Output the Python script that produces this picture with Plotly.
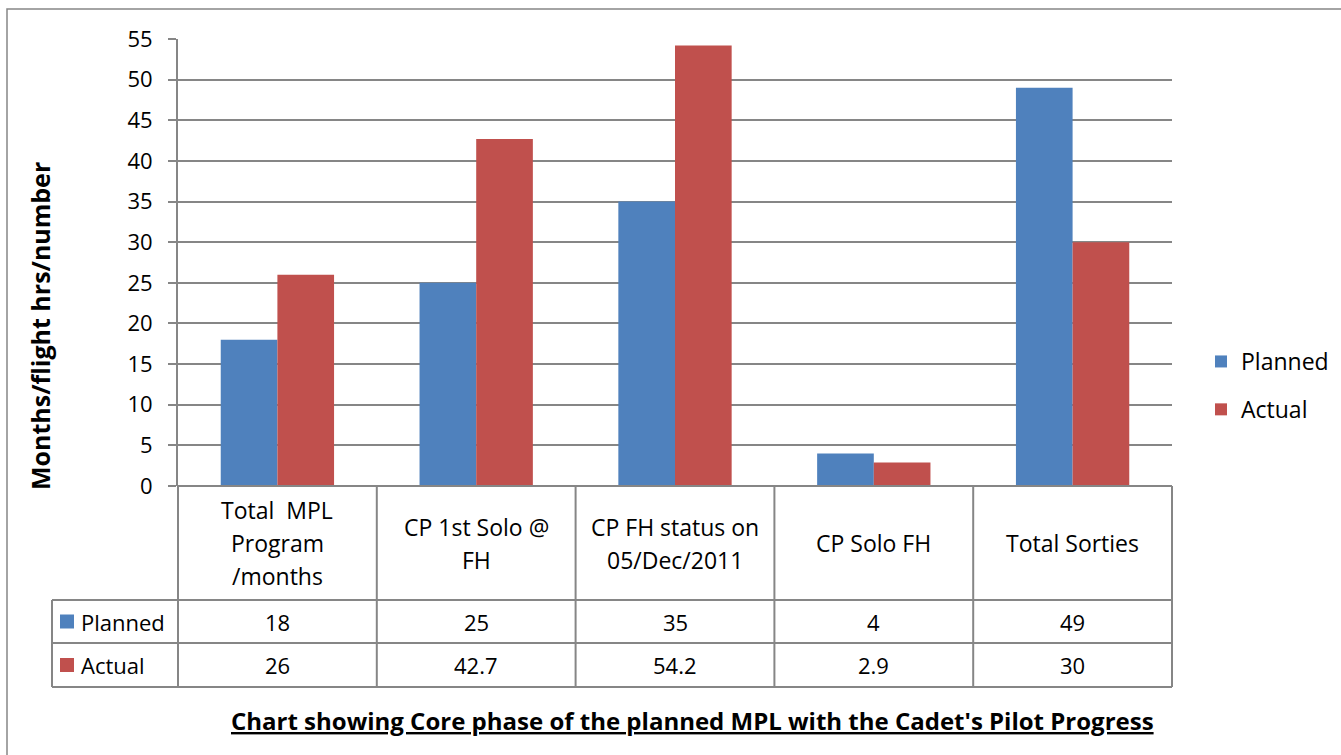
import plotly.graph_objects as go

# Chart data
categories = ["Total  MPL\nProgram\n/months", "CP 1st Solo @\nFH", "CP FH status on\n05/Dec/2011",
              "CP Solo FH", "Total Sorties"]
planned = [18, 25, 35, 4, 49]
actual = [26, 42.7, 54.2, 2.9, 30]
series_names = ["Planned", "Actual"]
colors = ["#4F81BD", "#C0504D"]
y_ticks = list(range(0, 60, 5))

W, H = 1341, 755
PL, PR, PT, PB = 178, 1172, 39, 486   # plot area in pixels
FONT = "Open Sans, Carlito, Calibri, sans-serif"
GRID = "#868686"
FS = 22


def px(x):
    return (x - PL) / (PR - PL)


def py(y):
    return (PB - y) / (PB - PT)


x_idx = list(range(len(categories)))
fig = go.Figure()
for name, vals, col in zip(series_names, [planned, actual], colors):
    fig.add_trace(go.Bar(
        x=x_idx, y=vals, name=name, marker=dict(color=col, line=dict(width=0)),
        legendgroup=name,
    ))

shapes = []
annotations = []

# outer chart border
shapes.append(dict(type="rect", xref="paper", yref="paper", x0=px(7), x1=px(1346),
                   y0=py(9), y1=py(760), line=dict(color=GRID, width=1.5)))

# data table grid
row_y = [PB, 600, 643, 687]
n = len(categories)
col_x = [PL + i * (PR - PL) / n for i in range(n + 1)]
table_left = 52
shapes.append(dict(type="line", xref="paper", yref="paper", x0=px(PL), x1=px(PR),
                   y0=py(PB), y1=py(PB), line=dict(color=GRID, width=2)))
for yy in row_y[1:]:
    shapes.append(dict(type="line", xref="paper", yref="paper", x0=px(table_left), x1=px(PR),
                       y0=py(yy), y1=py(yy), line=dict(color=GRID, width=2)))
for xx in col_x:
    shapes.append(dict(type="line", xref="paper", yref="paper", x0=px(xx), x1=px(xx),
                       y0=py(PB), y1=py(row_y[-1]), line=dict(color=GRID, width=2)))
shapes.append(dict(type="line", xref="paper", yref="paper", x0=px(table_left), x1=px(table_left),
                   y0=py(row_y[1]), y1=py(row_y[-1]), line=dict(color=GRID, width=2)))

# category header cells
line_gap = 33
head_mid = (row_y[0] + row_y[1]) / 2
for i, label in enumerate(categories):
    lines = label.split("\n")
    cx = (col_x[i] + col_x[i + 1]) / 2
    for k, ln in enumerate(lines):
        yy = head_mid + (k - (len(lines) - 1) / 2) * line_gap
        annotations.append(dict(xref="paper", yref="paper", x=px(cx), y=py(yy), text=ln,
                                showarrow=False, xanchor="center", yanchor="middle",
                                font=dict(family=FONT, size=FS + 1, color="#000")))

# value rows
for r, (name, vals, col) in enumerate(zip(series_names, [planned, actual], colors)):
    mid = (row_y[r + 1] + row_y[r + 2]) / 2
    shapes.append(dict(type="rect", xref="paper", yref="paper", x0=px(60), x1=px(74),
                       y0=py(mid - 7), y1=py(mid + 7), fillcolor=col, line=dict(width=0)))
    annotations.append(dict(xref="paper", yref="paper", x=px(79), y=py(mid), text=name,
                            showarrow=False, xanchor="left", yanchor="middle",
                            font=dict(family=FONT, size=FS, color="#000")))
    for i, v in enumerate(vals):
        cx = (col_x[i] + col_x[i + 1]) / 2
        annotations.append(dict(xref="paper", yref="paper", x=px(cx), y=py(mid), text=str(v),
                                showarrow=False, xanchor="center", yanchor="middle",
                                font=dict(family=FONT, size=FS, color="#000")))

# axis title
annotations.append(dict(xref="paper", yref="paper", x=px(40), y=py(326),
                        text="<b>Months/flight hrs/number</b>", textangle=-90, showarrow=False,
                        xanchor="center", yanchor="middle",
                        font=dict(family=FONT, size=25, color="#000")))

# chart title below the table
annotations.append(dict(xref="paper", yref="paper", x=px(692), y=py(720),
                        text="<u><b>Chart showing Core phase of the planned MPL with the Cadet's Pilot Progress</b></u>",
                        showarrow=False, xanchor="center", yanchor="middle",
                        font=dict(family=FONT, size=24, color="#000")))

fig.update_layout(
    width=W, height=H,
    margin=dict(l=PL, r=W - PR, t=PT, b=H - PB, pad=0, autoexpand=False),
    paper_bgcolor="white", plot_bgcolor="white",
    barmode="group", bargap=0.43, bargroupgap=0,
    showlegend=True,
    legend=dict(x=px(1201), y=py(340), xanchor="left", yanchor="top",
                font=dict(family=FONT, size=FS + 1, color="#000"),
                tracegroupgap=15, bgcolor="rgba(0,0,0,0)"),
    xaxis=dict(range=[-0.5, n - 0.5], showticklabels=False, showgrid=False,
               zeroline=False, ticks="", showline=False, fixedrange=True),
    yaxis=dict(range=[0, 55], tickvals=y_ticks, showgrid=True, gridcolor=GRID, gridwidth=2,
               zeroline=False, showline=True, linecolor=GRID, linewidth=2,
               ticks="outside", ticklen=8, tickcolor=GRID, tickwidth=2,
               tickfont=dict(family=FONT, size=FS, color="#000"), ticklabelstandoff=11),
    shapes=shapes, annotations=annotations,
)

fig.write_html("out.html")
